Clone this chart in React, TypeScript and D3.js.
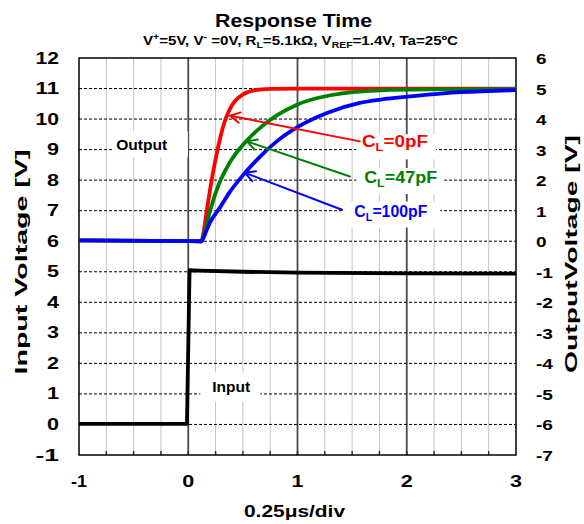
import React from "react";
import * as d3 from "d3";

const W = 584;
const H = 524;

// axis ticks
const xTicks = [-1, 0, 1, 2, 3];
const yLeftTicks = [-1, 0, 1, 2, 3, 4, 5, 6, 7, 8, 9, 10, 11, 12];
const yRightTicks = [-7, -6, -5, -4, -3, -2, -1, 0, 1, 2, 3, 4, 5, 6];

// Input (black)
const inputT = [-1, -0.012, 0.012, 0.1, 0.5, 1.0, 2.0, 3.0];
const inputV = [0.02, 0.02, 5.05, 5.04, 5.0, 4.97, 4.95, 4.94];

// Output CL=0pF (red)
const redT = [-1, 0.12, 0.14, 0.165, 0.2, 0.232, 0.287, 0.323, 0.37, 0.415, 0.506, 0.613, 0.75, 1.0, 2.0, 3.0];
const redV = [6.03, 6.0, 6.3, 6.9, 7.7, 8.35, 9.3, 9.8, 10.25, 10.53, 10.82, 10.95, 10.99, 11.0, 11.0, 11.0];

// Output CL=47pF (green)
const greenT = [-1, 0.12, 0.156, 0.2, 0.278, 0.384, 0.537, 0.66, 0.81, 1.0, 1.3, 1.76, 2.2, 3.0];
const greenV = [6.03, 6.0, 6.38, 7.0, 7.85, 8.6, 9.3, 9.72, 10.12, 10.48, 10.78, 10.94, 10.97, 10.98];

// Output CL=100pF (blue)
const blueT = [-1, 0.12, 0.17, 0.2, 0.29, 0.378, 0.52, 0.66, 0.81, 1.01, 1.27, 1.57, 1.76, 2.06, 2.49, 3.0];
const blueV = [6.03, 6.0, 6.38, 6.62, 7.1, 7.6, 8.24, 8.78, 9.27, 9.76, 10.2, 10.53, 10.64, 10.75, 10.88, 10.95];

// annotation arrows: [tailT, tailV, tipT, tipV]
const redArrow = [1.57, 9.27, 0.384, 10.11];
const greenArrow = [1.48, 8.12, 0.537, 9.27];
const blueArrow = [1.407, 7.03, 0.52, 8.24];

const FONT = "'Liberation Sans', Arial, Helvetica, sans-serif";

const zip = (t: number[], v: number[]) => t.map((d, i) => [d, v[i]] as [number, number]);

export default function App() {
  const x = d3.scaleLinear().domain([-1, 3]).range([79, 516]);
  const y = d3.scaleLinear().domain([-1, 12]).range([455, 58]);

  const linear = d3.line<[number, number]>().x((d) => x(d[0])).y((d) => y(d[1]));
  const smooth = d3
    .line<[number, number]>()
    .x((d) => x(d[0]))
    .y((d) => y(d[1]))
    .curve(d3.curveMonotoneX);

  const minorX = d3.range(-0.75, 3, 0.25).filter((t) => Math.abs(t - Math.round(t)) > 1e-6);
  const majorX = [0, 1, 2];
  const hGrid = d3.range(0, 12);

  const arrow = (a: number[], color: string) => {
    const x1 = x(a[0]), y1 = y(a[1]), x2 = x(a[2]), y2 = y(a[3]);
    const ang = Math.atan2(y1 - y2, x1 - x2);
    const L = 11, s = 0.5;
    const p1 = [x2 + L * Math.cos(ang + s), y2 + L * Math.sin(ang + s)];
    const p2 = [x2 + L * Math.cos(ang - s), y2 + L * Math.sin(ang - s)];
    return (
      <g stroke={color} strokeWidth={2} fill="none" strokeLinecap="round" strokeLinejoin="round">
        <line x1={x1} y1={y1} x2={x2} y2={y2} />
        <polyline points={`${p1[0]},${p1[1]} ${x2},${y2} ${p2[0]},${p2[1]}`} />
      </g>
    );
  };

  const tickLen = (s: string, one: number, two: number) => (s.length > 1 ? two : one);

  return (
    <svg
      width={W}
      height={H}
      style={{ position: "absolute", left: 0, top: 0 }}
      fontFamily={FONT}
      fontWeight="bold"
    >
      <rect x={0} y={0} width={W} height={H} fill="#fff" />

      {/* grid */}
      {minorX.map((t) => (
        <line key={"mx" + t} x1={x(t)} x2={x(t)} y1={y(12)} y2={y(-1)} stroke="#c4c4c4" strokeWidth={1} />
      ))}
      {majorX.map((t) => (
        <line key={"Mx" + t} x1={x(t)} x2={x(t)} y1={y(12)} y2={y(-1)} stroke="#4a4a4a" strokeWidth={1.8} />
      ))}
      {hGrid.map((v) => (
        <line key={"h" + v} x1={x(-1)} x2={x(3)} y1={y(v)} y2={y(v)} stroke="#000" strokeWidth={1} strokeDasharray="3,2" />
      ))}
      {d3.range(-0.75, 3, 0.25).map((t) => (
        <line key={"bt" + t} x1={x(t)} x2={x(t)} y1={y(-1)} y2={y(-1) - 4} stroke="#333" strokeWidth={1.5} />
      ))}

      {/* label backgrounds */}
      <rect x={x(-0.69)} y={y(9.6)} width={75} height={26} fill="#fff" />
      <rect x={x(0.11)} y={y(1.7)} width={60} height={29} fill="#fff" />
      <rect x={x(1.538)} y={y(9.5)} width={80} height={25} fill="#fff" />
      <rect x={x(1.538)} y={y(8.4)} width={88} height={26} fill="#fff" />
      <rect x={x(1.419)} y={y(7.3)} width={97} height={26} fill="#fff" />

      <rect x={x(-1)} y={y(12)} width={x(3) - x(-1)} height={y(-1) - y(12)} fill="none" stroke="#000" strokeWidth={1.5} />

      {/* series */}
      <g fill="none" strokeWidth={3.8} strokeLinejoin="round">
        <path d={linear(zip(inputT, inputV)) || ""} stroke="#000" />
        <path d={smooth(zip(redT, redV)) || ""} stroke="#ff0000" />
        <path d={smooth(zip(greenT, greenV)) || ""} stroke="#008000" />
        <path d={smooth(zip(blueT, blueV)) || ""} stroke="#0000ff" />
      </g>

      {arrow(redArrow, "#ff0000")}
      {arrow(greenArrow, "#008000")}
      {arrow(blueArrow, "#0000ff")}

      {/* annotation labels */}
      <text x={x(-0.426)} y={y(9)} textAnchor="middle" fontSize={15.5} textLength={51} lengthAdjust="spacingAndGlyphs">Output</text>
      <text x={x(0.394)} y={y(1.07)} textAnchor="middle" fontSize={15.5} textLength={38} lengthAdjust="spacingAndGlyphs">Input</text>

      <text x={x(1.59)} y={y(9.07)} fontSize={16} fill="#ff0000" textLength={66} lengthAdjust="spacingAndGlyphs">
        C<tspan fontSize={11} dy={4}>L</tspan><tspan dy={-4}>=0pF</tspan>
      </text>
      <text x={x(1.61)} y={y(7.92)} fontSize={16} fill="#008000" textLength={73} lengthAdjust="spacingAndGlyphs">
        C<tspan fontSize={11} dy={4}>L</tspan><tspan dy={-4}>=47pF</tspan>
      </text>
      <text x={x(1.52)} y={y(6.8)} fontSize={16} fill="#0000ff" textLength={73} lengthAdjust="spacingAndGlyphs">
        C<tspan fontSize={11} dy={4}>L</tspan><tspan dy={-4}>=100pF</tspan>
      </text>

      {/* titles */}
      <text x={293.5} y={27} textAnchor="middle" fontSize={19} textLength={157} lengthAdjust="spacingAndGlyphs">Response Time</text>
      <text x={300.5} y={45} textAnchor="middle" fontSize={13} textLength={315} lengthAdjust="spacingAndGlyphs">
        V<tspan fontSize={9} dy={-5}>+</tspan><tspan dy={5}>=5V, V</tspan><tspan fontSize={9} dy={-5}>-</tspan><tspan dy={5}> =0V, R</tspan><tspan fontSize={9} dy={3}>L</tspan><tspan dy={-3}>=5.1kΩ, V</tspan><tspan fontSize={9} dy={3}>REF</tspan><tspan dy={-3}>=1.4V, Ta=25ºC</tspan>
      </text>

      {/* axes tick labels */}
      {yLeftTicks.map((v) => (
        <text key={"yl" + v} x={59} y={y(v) + 5.5} textAnchor="end" fontSize={16} textLength={tickLen(String(v), 12, 23.5)} lengthAdjust="spacingAndGlyphs">
          {v}
        </text>
      ))}
      {yRightTicks.map((v) => (
        <text key={"yr" + v} x={536} y={y(v + 6) + 6} textAnchor="start" fontSize={15} textLength={tickLen(String(v), 10.5, 17)} lengthAdjust="spacingAndGlyphs">
          {v}
        </text>
      ))}
      {xTicks.map((t) => (
        <text key={"xt" + t} x={x(t)} y={487} textAnchor="middle" fontSize={17} textLength={tickLen(String(t), 12, 16)} lengthAdjust="spacingAndGlyphs">
          {t}
        </text>
      ))}

      <text x={294.5} y={517} textAnchor="middle" fontSize={16.5} textLength={101} lengthAdjust="spacingAndGlyphs">0.25μs/div</text>
      <text transform="translate(27,262) rotate(-90)" textAnchor="middle" fontSize={16} textLength={225} lengthAdjust="spacingAndGlyphs">Input Voltage [V]</text>
      <text transform="translate(577,254) rotate(-90)" textAnchor="middle" fontSize={16} textLength={238} lengthAdjust="spacingAndGlyphs">OutputVoltage [V]</text>
    </svg>
  );
}
